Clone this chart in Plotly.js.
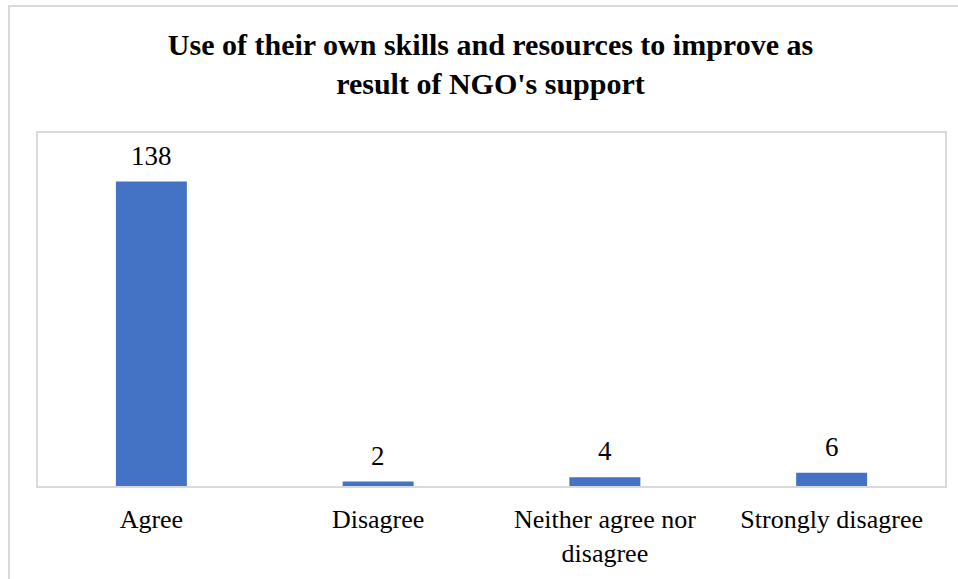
<!DOCTYPE html>
<html>
<head>
<meta charset="utf-8">
<script src="https://cdn.plot.ly/plotly-3.0.1.min.js"></script>
<style>
html,body{margin:0;padding:0;background:#fff;}
#frame{position:absolute;left:8px;top:5px;width:960px;height:600px;border:2px solid #d9d9d9;box-sizing:border-box;}
#chart{position:absolute;left:0;top:0;width:958px;height:579px;}
</style>
</head>
<body>
<div id="frame"></div>
<div id="chart"></div>
<script>
const categories = ["Agree", "Disagree", "Neither agree nor<br>disagree", "Strongly disagree"];
const counts = [138, 2, 4, 6];
const titleText = "Use of their own skills and resources to improve as<br>result of NGO's support";

const serif = "'Liberation Serif', 'Times New Roman', serif";

Plotly.newPlot("chart", [{
  type: "bar",
  x: categories,
  y: counts,
  marker: {color: "#4472C4"},
  hoverinfo: "none"
}], {
  width: 958,
  height: 579,
  paper_bgcolor: "rgba(0,0,0,0)",
  plot_bgcolor: "#fff",
  margin: {l: 38, r: 13, t: 133, b: 93},
  bargap: 0.687,
  title: {
    text: "<b>" + titleText + "</b>",
    font: {family: serif, size: 30, color: "#000"},
    x: 0.512,
    xanchor: "center",
    y: 0.905,
    yanchor: "top"
  },
  xaxis: {
    tickfont: {family: serif, size: 26, color: "#000"},
    showline: true, mirror: true, linecolor: "#d9d9d9", linewidth: 2,
    ticks: "", showgrid: false, fixedrange: true,
    ticklabelstandoff: 9
  },
  yaxis: {
    range: [0, 160],
    showticklabels: false, showgrid: false, zeroline: false,
    showline: true, mirror: true, linecolor: "#d9d9d9", linewidth: 2,
    ticks: "", fixedrange: true
  },
  annotations: categories.map((c, i) => ({
    x: c, y: counts[i], xref: "x", yref: "y",
    text: String(counts[i]), showarrow: false,
    yanchor: "bottom", yshift: 9,
    font: {family: serif, size: 27, color: "#000"}
  })),
  showlegend: false
}, {displayModeBar: false, staticPlot: true});
</script>
</body>
</html>
